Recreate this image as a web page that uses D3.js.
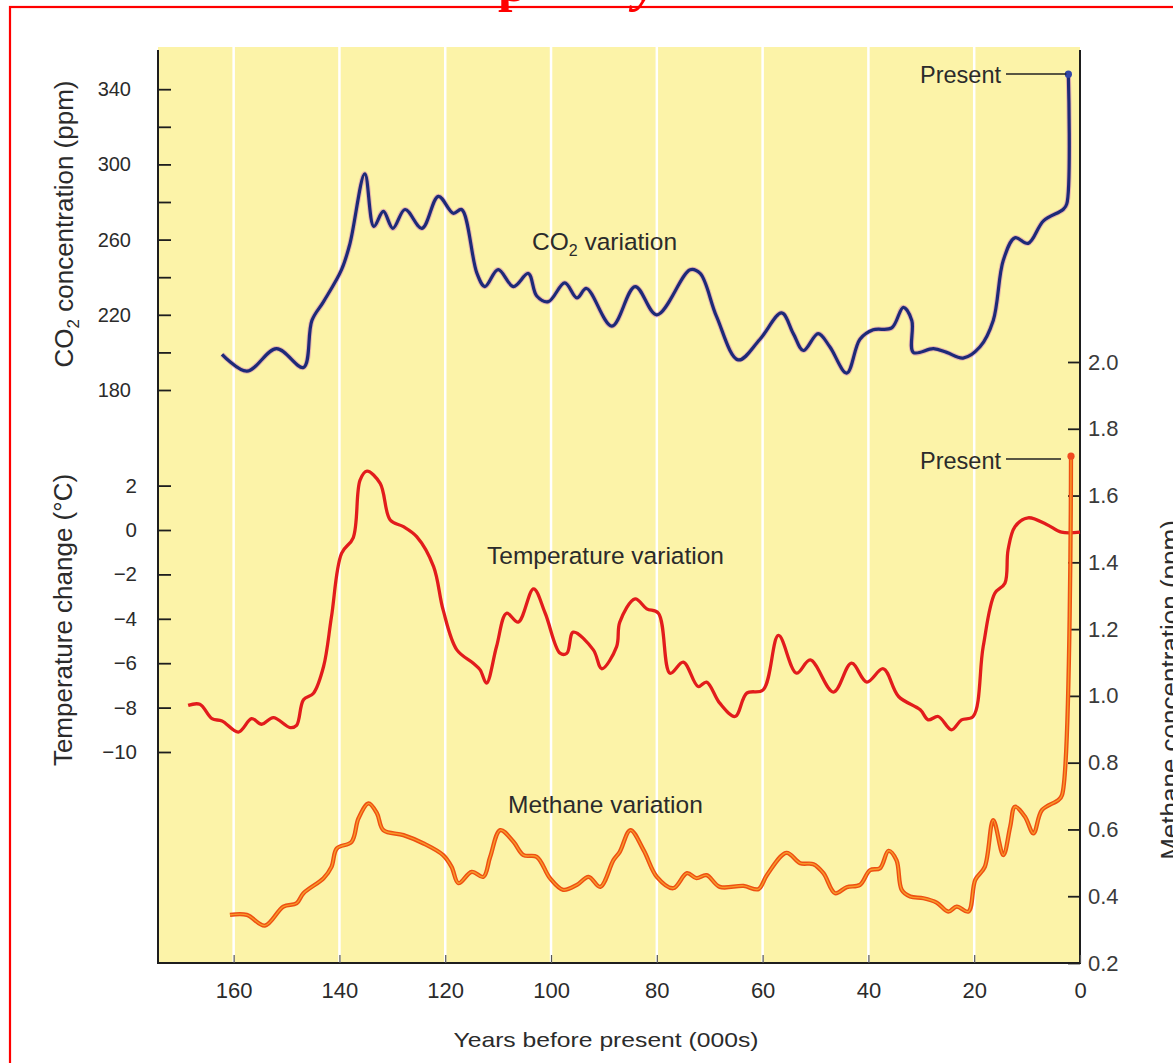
<!DOCTYPE html>
<html><head><meta charset="utf-8">
<script src="https://cdn.jsdelivr.net/npm/d3@7"></script>
<style>
html,body{margin:0;padding:0;background:#fff;overflow:hidden}
svg{display:block;font-family:"Liberation Sans",Arial,Helvetica,sans-serif}
</style></head><body>
<svg id="chart" width="1173" height="1063"></svg>
<script>
// ---------- data ----------
const xTicks = [0, 20, 40, 60, 80, 100, 120, 140, 160];
const co2Ticks = [180, 200, 220, 240, 260, 280, 300, 320, 340];
const co2Labelled = [180, 220, 260, 300, 340];
const tempTicks = [-10, -8, -6, -4, -2, 0, 2];
const ch4Ticks = [0.2, 0.4, 0.6, 0.8, 1.0, 1.2, 1.4, 1.6, 1.8, 2.0];

const co2Years = [162.2,157.5,151.9,146.8,145.2,143.0,139.6,138.0,135.2,133.5,131.7,129.9,127.6,124.4,121.3,118.5,116.9,114.0,112.5,110.0,107.1,104.3,102.7,100.5,97.4,95.1,93.3,88.5,84.1,80.0,73.7,71.8,68.7,64.6,60.5,56.4,54.2,52.3,49.5,47.3,44.1,41.6,39.1,35.6,33.4,31.8,31.5,27.7,25.2,22.1,18.9,16.4,14.5,12.3,9.8,6.9,3.2,2.5,2.2];
const co2Values = [199,190,202,192,217,227,244,258,295,267,275,266,276,266,283,274,276,242,235,244,235,242,230,227,237,229,234,214,235,220,244,242,219,196,207,221,210,201,210,203,189,207,212,213,224,217,200,202,200,197,203,217,249,261,258,270,276,279,348];

const tempYears = [168.6,166.4,164.1,162.2,159.1,156.6,154.7,152.5,149.3,148.1,146.8,144.9,143.0,141.5,139.6,137.4,136.1,134.8,132.3,130.4,127.9,125.4,122.2,120.4,117.8,114.7,113.4,112.2,110.3,108.4,106.2,103.3,101.1,98.3,97.0,95.8,92.0,90.4,87.6,87.0,84.1,81.9,79.7,77.5,75.0,72.2,70.6,68.1,65.2,63.0,59.9,57.0,53.6,51.0,46.6,43.2,40.3,37.2,34.3,30.2,28.7,26.8,24.3,22.4,20.2,18.3,16.1,14.2,13.6,12.3,9.8,6.3,3.5,0];
const tempValues = [-7.9,-7.85,-8.5,-8.6,-9.1,-8.5,-8.75,-8.45,-8.9,-8.8,-7.65,-7.35,-6.15,-3.9,-1.05,-0.35,2.25,2.65,2.1,0.45,0.15,-0.3,-1.65,-3.6,-5.4,-6.0,-6.3,-6.9,-5.25,-3.75,-4.15,-2.65,-3.75,-5.55,-5.55,-4.6,-5.4,-6.25,-5.25,-4.15,-3.1,-3.55,-3.75,-6.45,-5.95,-7.05,-6.85,-7.8,-8.4,-7.35,-7.2,-4.75,-6.45,-5.85,-7.3,-6.0,-6.85,-6.25,-7.5,-8.1,-8.55,-8.4,-9.0,-8.55,-8.4,-5.25,-2.85,-2.4,-0.9,0.15,0.55,0.25,-0.1,-0.1];

const ch4Years = [160.7,157.5,154.1,150.6,148.1,146.8,143.0,141.5,140.5,137.7,136.4,134.5,132.9,131.7,127.9,124.1,120.4,118.8,117.5,115.0,112.8,111.5,109.6,107.1,105.2,102.7,100.2,97.7,95.1,92.9,90.7,88.2,87.0,85.0,82.5,80.0,76.9,74.3,72.5,70.6,68.1,63.6,60.8,59.2,55.5,52.9,50.4,48.5,46.3,44.1,41.6,39.7,37.8,36.2,34.7,33.7,32.1,29.6,27.1,24.9,23.3,21.1,19.8,18.0,16.4,14.5,13.2,12.3,10.4,8.8,7.2,4.1,3.4,1.7];
const ch4Values = [0.344,0.344,0.312,0.369,0.379,0.409,0.454,0.488,0.543,0.563,0.633,0.678,0.648,0.598,0.583,0.558,0.523,0.488,0.439,0.473,0.458,0.518,0.598,0.563,0.523,0.518,0.454,0.419,0.434,0.458,0.428,0.508,0.533,0.598,0.538,0.458,0.424,0.469,0.454,0.463,0.428,0.431,0.421,0.463,0.530,0.499,0.496,0.469,0.409,0.427,0.434,0.478,0.484,0.536,0.508,0.419,0.399,0.394,0.381,0.354,0.369,0.354,0.449,0.488,0.628,0.523,0.608,0.668,0.638,0.588,0.658,0.688,0.703,1.718];

// ---------- layout ----------
const L = 158, R = 1080, T = 47, B = 963;
const svg = d3.select("#chart");
const textCol = "#2b2b2b";

const x = d3.scaleLinear().domain([174.3, 0]).range([L, R]);
const yC = d3.scaleLinear().domain([180, 340]).range([390, 89.2]);
const yT = d3.scaleLinear().domain([-10, 2]).range([752, 485.6]);
const yM = d3.scaleLinear().domain([0.2, 2.0]).range([B, 362]);

// red frame + cut-off title glyphs
svg.append("text").attr("x", 498).attr("y", 1).attr("font-family", "Liberation Serif")
  .attr("font-weight", "bold").attr("font-size", 52).attr("fill", "#ff0000").text("p");
svg.append("text").attr("x", 634).attr("y", 1).attr("font-family", "Liberation Serif")
  .attr("font-weight", "bold").attr("font-style", "italic").attr("font-size", 52).attr("fill", "#ff0000").text("y");
svg.append("rect").attr("x", 10).attr("y", 7).attr("width", 1300).attr("height", 1200)
  .attr("fill", "none").attr("stroke", "#ff0000").attr("stroke-width", 2.2);

// plot background
svg.append("rect").attr("x", L).attr("y", T).attr("width", R - L).attr("height", B - T).attr("fill", "#fcf3a8");

// white vertical grid lines
svg.append("g").selectAll("line").data(xTicks.filter(d => d > 0)).join("line")
  .attr("x1", d => x(d)).attr("x2", d => x(d)).attr("y1", T).attr("y2", B)
  .attr("stroke", "#ffffff").attr("stroke-width", 2.5);

// axes frame lines
const frame = svg.append("g").attr("stroke", "#1e1e1e").attr("stroke-width", 2);
frame.append("line").attr("x1", L).attr("x2", L).attr("y1", 50).attr("y2", B + 1);
frame.append("line").attr("x1", R).attr("x2", R).attr("y1", 50).attr("y2", B + 1);
frame.append("line").attr("x1", L - 1).attr("x2", R + 1).attr("y1", B).attr("y2", B);

function styleAxis(g, size) {
  g.select(".domain").remove();
  g.selectAll(".tick line").attr("stroke", "#1e1e1e").attr("stroke-width", 1.8);
  g.selectAll(".tick text").attr("fill", textCol).attr("font-size", size)
    .attr("font-family", "'Liberation Sans', Arial, sans-serif");
}

// x axis
const gx = svg.append("g").attr("transform", `translate(0,${B})`)
  .call(d3.axisBottom(x).tickValues(xTicks).tickSize(-8).tickPadding(19).tickFormat(d3.format("d")));
styleAxis(gx, 22);
gx.selectAll(".tick line").attr("stroke", "#555").attr("stroke-width", 1.2);

// CO2 axis (left, top)
const gC = svg.append("g").attr("transform", `translate(${L},0)`)
  .call(d3.axisLeft(yC).tickValues(co2Ticks).tickSize(-13).tickPadding(27)
    .tickFormat(d => co2Labelled.includes(d) ? d : ""));
styleAxis(gC, 20);

// temperature axis (left, middle)
const gT = svg.append("g").attr("transform", `translate(${L},0)`)
  .call(d3.axisLeft(yT).tickValues(tempTicks).tickSize(-13).tickPadding(21).tickFormat(d3.format("d")));
styleAxis(gT, 20.5);

// methane axis (right)
const gM = svg.append("g").attr("transform", `translate(${R},0)`)
  .call(d3.axisRight(yM).tickValues(ch4Ticks).tickSize(-12).tickPadding(8).tickFormat(d3.format(".1f")));
styleAxis(gM, 22);
gM.selectAll(".tick text").attr("fill", "#3a3a3a");

// axis titles
const titleFont = 26;
const co2Title = svg.append("text").attr("transform", "translate(73,224) rotate(-90)")
  .attr("text-anchor", "middle").attr("font-size", titleFont).attr("fill", textCol);
co2Title.append("tspan").text("CO");
co2Title.append("tspan").attr("font-size", 17).attr("dy", 6).text("2");
co2Title.append("tspan").attr("dy", -6).text(" concentration (ppm)");

svg.append("text").attr("transform", "translate(72,620) rotate(-90)")
  .attr("text-anchor", "middle").attr("font-size", titleFont).attr("fill", textCol)
  .text("Temperature change (°C)");

svg.append("text").attr("transform", "translate(1179,690) rotate(-90)")
  .attr("text-anchor", "middle").attr("font-size", titleFont).attr("fill", textCol)
  .text("Methane concentration (ppm)");

svg.append("text").attr("x", 606).attr("y", 1047).attr("text-anchor", "middle")
  .attr("font-size", 21).attr("fill", textCol).attr("textLength", 305).attr("lengthAdjust", "spacingAndGlyphs")
  .text("Years before present (000s)");

// ---------- series ----------
const co2Data = co2Years.map((d, i) => [d, co2Values[i]]);
const tempData = tempYears.map((d, i) => [d, tempValues[i]]);
const ch4Data = ch4Years.map((d, i) => [d, ch4Values[i]]);

const curve = d3.curveCatmullRom.alpha(0.5);
const lineC = d3.line().x(d => x(d[0])).y(d => yC(d[1])).curve(curve);
const lineT = d3.line().x(d => x(d[0])).y(d => yT(d[1])).curve(curve);
const lineM = d3.line().x(d => x(d[0])).y(d => yM(d[1])).curve(curve);

// CO2 (with faint pink halo)
svg.append("path").datum(co2Data).attr("d", lineC).attr("fill", "none")
  .attr("stroke", "#d890b0").attr("stroke-width", 5.2).attr("stroke-linejoin", "round").attr("opacity", 0.6);
svg.append("path").datum(co2Data).attr("d", lineC).attr("fill", "none")
  .attr("stroke", "#1d2a78").attr("stroke-width", 3.2).attr("stroke-linejoin", "round");

// temperature
svg.append("path").datum(tempData).attr("d", lineT).attr("fill", "none")
  .attr("stroke", "#e21c1c").attr("stroke-width", 3.3).attr("stroke-linejoin", "round");

// methane
svg.append("path").datum(ch4Data).attr("d", lineM).attr("fill", "none")
  .attr("stroke", "#ee5012").attr("stroke-width", 4.3).attr("stroke-linejoin", "round");
svg.append("path").datum(ch4Data).attr("d", lineM).attr("fill", "none")
  .attr("stroke", "#f89a2a").attr("stroke-width", 1.4).attr("stroke-linejoin", "round");

// present markers
const lastC = co2Data[co2Data.length - 1];
const lastM = ch4Data[ch4Data.length - 1];
svg.append("circle").attr("cx", x(lastC[0])).attr("cy", yC(lastC[1])).attr("r", 3.6).attr("fill", "#3045a8");
svg.append("circle").attr("cx", x(lastM[0])).attr("cy", yM(lastM[1])).attr("r", 3.6).attr("fill", "#f04a20");

// annotations
const annFont = 24.5;
const lab = svg.append("g").attr("fill", textCol).attr("font-size", annFont);
const co2Lab = lab.append("text").attr("x", 532).attr("y", 250);
co2Lab.append("tspan").text("CO");
co2Lab.append("tspan").attr("font-size", 16).attr("dy", 6).text("2");
co2Lab.append("tspan").attr("dy", -6).text(" variation");
lab.append("text").attr("x", 487).attr("y", 564).text("Temperature variation");
lab.append("text").attr("x", 508).attr("y", 813).text("Methane variation");

lab.append("text").attr("x", 920).attr("y", 83).attr("font-size", 23.5).text("Present");
lab.append("text").attr("x", 920).attr("y", 469).attr("font-size", 23.5).text("Present");
svg.append("line").attr("x1", 1006).attr("x2", x(lastC[0]) - 2).attr("y1", 74).attr("y2", 74)
  .attr("stroke", "#222").attr("stroke-width", 1.4);
svg.append("line").attr("x1", 1006).attr("x2", 1061).attr("y1", 459).attr("y2", 459)
  .attr("stroke", "#222").attr("stroke-width", 1.4);
</script>
</body></html>
